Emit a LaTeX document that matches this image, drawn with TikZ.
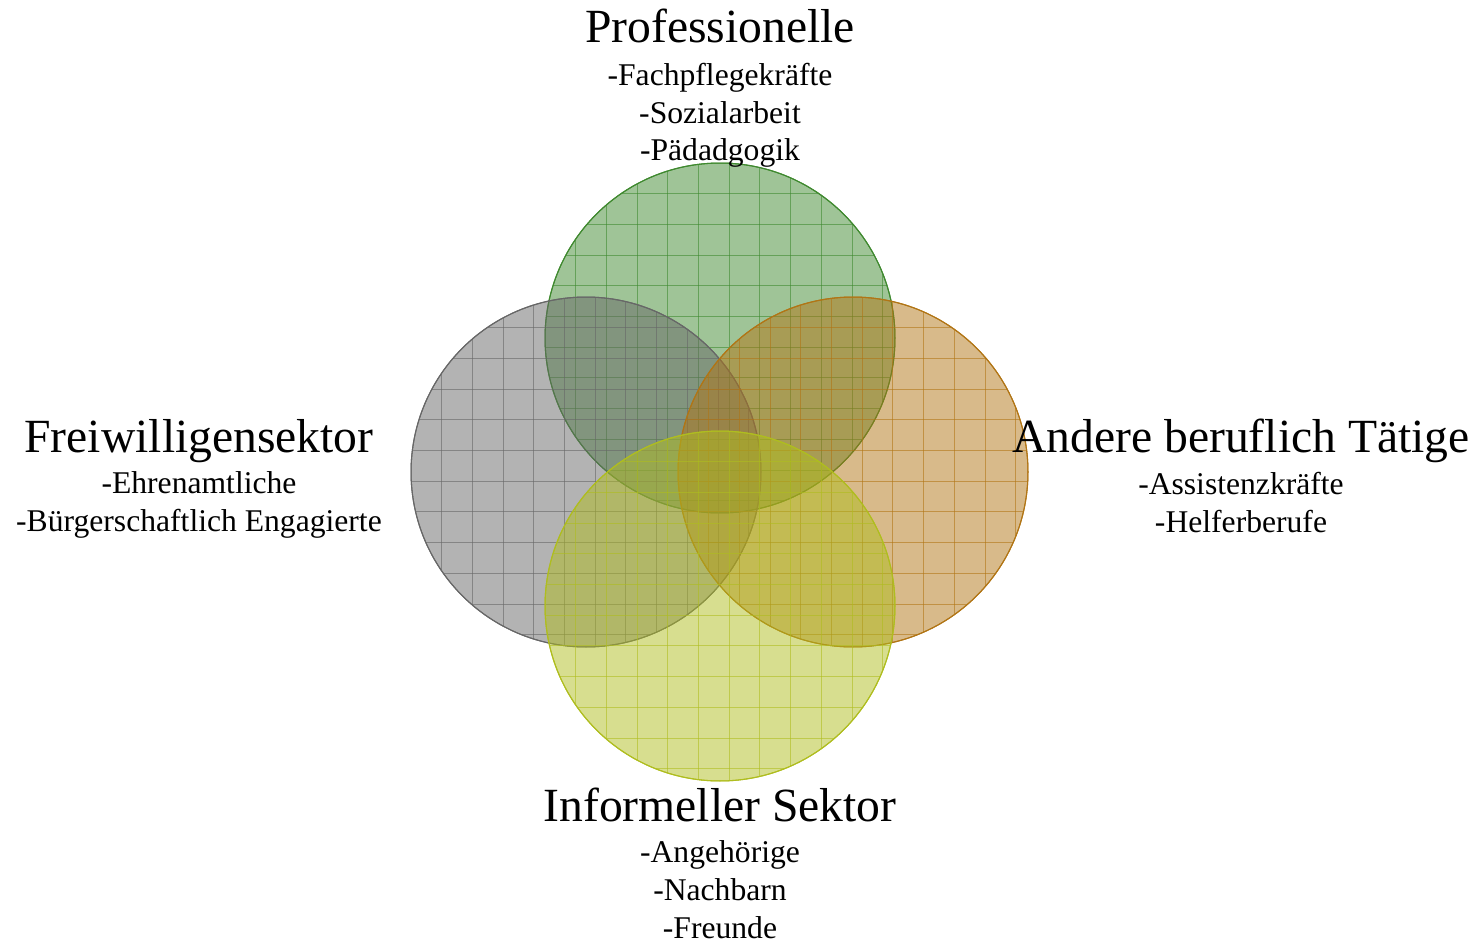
\documentclass[tikz,border=0pt]{standalone}
\usepackage{fontspec}
\setmainfont{Liberation Serif}
\usetikzlibrary{positioning}
\definecolor{profgreen}{RGB}{63,137,47}
\definecolor{freigray}{RGB}{103,103,103}
\definecolor{andorange}{RGB}{177,117,21}
\definecolor{infyellow}{RGB}{175,189,31}

\begin{document}
\begin{tikzpicture}[x=0.02cm, y=-0.02cm,
  head/.style={font=\fontsize{27.1}{32}\selectfont, inner sep=0pt, text depth=0pt, anchor=base},
  list/.style={font=\fontsize{18}{21.5}\selectfont, align=center, inner sep=0pt},
  ring/.style={circle, minimum size=7cm, inner sep=0pt, draw=#1, fill=#1, fill opacity=0.5, line width=0.6pt}]

\useasboundingbox (0,0) rectangle (1480,946);

% the four sectors, each with its own grid
\foreach \cx/\cy/\col/\nm in {720/338/profgreen/cprof, 586/472/freigray/cfrei, 853/472/andorange/cand, 720/606/infyellow/cinf} {
  \node[ring=\col] (\nm) at (\cx,\cy) {};
  \begin{scope}
    \clip (\nm.center) circle (3.5cm);
    \foreach \k in {1,...,11} {
      \draw[\col, opacity=0.6, line width=0.5pt] (\cx-175+\k*30.7,\cy-175) -- (\cx-175+\k*30.7,\cy+175);
      \draw[\col, opacity=0.6, line width=0.5pt] (\cx-175,\cy-175+\k*30.7) -- (\cx+175,\cy-175+\k*30.7);
    }
  \end{scope}
  \draw[\col, line width=0.6pt] (\nm.center) circle (3.5cm);
}

% labels
\node[head] (prof) at (720,43) {Professionelle};
\node[list, below=11pt of prof] (profl) {-Fachpflegekräfte\\-Sozialarbeit\\-Pädadgogik};

\node[head] (frei) at (199,452) {Freiwilligensektor};
\node[list, below=11pt of frei] (freil) {-Ehrenamtliche\\-Bürgerschaftlich Engagierte};

\node[head] (and) at (1241,452) {Andere beruflich Tätige};
\node[list, below=11pt of and] (andl) {-Assistenzkräfte\\-Helferberufe};

\node[head] (inf) at (720,821) {Informeller Sektor};
\node[list, below=11pt of inf] (infl) {-Angehörige\\-Nachbarn\\-Freunde};
\end{tikzpicture}
\end{document}
